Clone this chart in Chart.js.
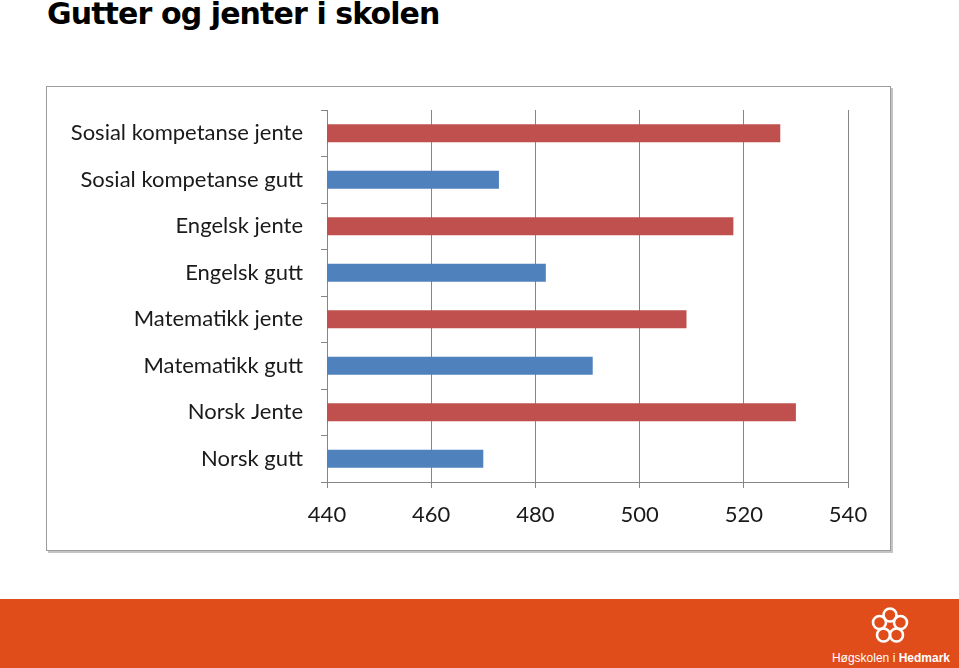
<!DOCTYPE html>
<html>
<head>
<meta charset="utf-8">
<script src="https://cdn.jsdelivr.net/npm/chart.js@4"></script>
<style>
  body { margin: 0; width: 959px; height: 668px; background: #fff; position: relative; overflow: hidden; }
  #title { position: absolute; left: 47px; top: -4px; font: bold 30px "DejaVu Sans", Verdana, sans-serif; color: #000; letter-spacing: -0.9px; }
  #frame { position: absolute; left: 46px; top: 86px; width: 843px; height: 463px; border: 1px solid #9c9c9c; box-shadow: 2px 2px 0 #c4c4c4; background: #fff; }
  #frame canvas { position: absolute; left: 0; top: 0; }
  #footer { position: absolute; left: 0; top: 599px; width: 959px; height: 69px; background: #e04c1a; }
  #brand { position: absolute; right: 9px; bottom: 3px; color: #fff; font: 12px "Liberation Sans", Arial, sans-serif; }
  #brand b { font-weight: bold; }
  #logo { position: absolute; left: 870px; top: 7px; }
</style>
</head>
<body>
<div id="title">Gutter og jenter i skolen</div>
<div id="frame"><canvas id="chart" width="843" height="463"></canvas></div>
<div id="footer">
  <svg id="logo" width="40" height="40" viewBox="0 0 40 40">
    <g fill="none" stroke="#fff" stroke-width="2.6">
      <circle cx="20" cy="9" r="6.5"/>
      <circle cx="30.5" cy="16.5" r="6.5"/>
      <circle cx="26.5" cy="29" r="6.5"/>
      <circle cx="13.5" cy="29" r="6.5"/>
      <circle cx="9.5" cy="16.5" r="6.5"/>
    </g>
  </svg>
  <div id="brand">Høgskolen i <b>Hedmark</b></div>
</div>
<script>
// Data
const categories = ['Sosial kompetanse jente', 'Sosial kompetanse gutt', 'Engelsk jente', 'Engelsk gutt',
                    'Matematikk jente', 'Matematikk gutt', 'Norsk Jente', 'Norsk gutt'];
const scores = [527, 473, 518, 482, 509, 491, 530, 470];
const xTicks = [440, 460, 480, 500, 520, 540];

const RED = '#c0504d';
const BLUE = '#4f81bd';
const GRID = '#868686';

const ctx = document.getElementById('chart').getContext('2d');
new Chart(ctx, {
    type: 'bar',
    data: {
        labels: categories,
        datasets: [{
            data: scores,
            backgroundColor: categories.map(c => /jente/i.test(c) ? RED : BLUE),
            borderWidth: 0,
            barPercentage: 0.39,
            categoryPercentage: 1
        }]
    },
    options: {
        indexAxis: 'y',
        responsive: false,
        animation: false,
        layout: { padding: { top: 23, right: 42, bottom: 0, left: 0 } },
        plugins: { legend: { display: false }, tooltip: { enabled: false } },
        scales: {
            x: {
                min: xTicks[0],
                max: xTicks[xTicks.length - 1],
                afterBuildTicks: s => { s.ticks = xTicks.map(v => ({ value: v })); },
                afterFit: s => { s.height = 68; },
                grid: { color: GRID, tickLength: 6, tickColor: GRID },
                border: { color: GRID },
                ticks: { color: '#1a1a1a', padding: 14, font: { family: 'Lato, "Open Sans", sans-serif', size: 22 } }
            },
            y: {
                afterFit: s => { s.width = 280; s.paddingTop = 0; s.paddingBottom = 0; },
                grid: { drawOnChartArea: false, tickLength: 6, color: GRID, tickColor: GRID },
                border: { color: GRID },
                ticks: { color: '#1a1a1a', padding: 18, font: { family: 'Lato, "Open Sans", sans-serif', size: 22 } }
            }
        }
    }
});
</script>
</body>
</html>
